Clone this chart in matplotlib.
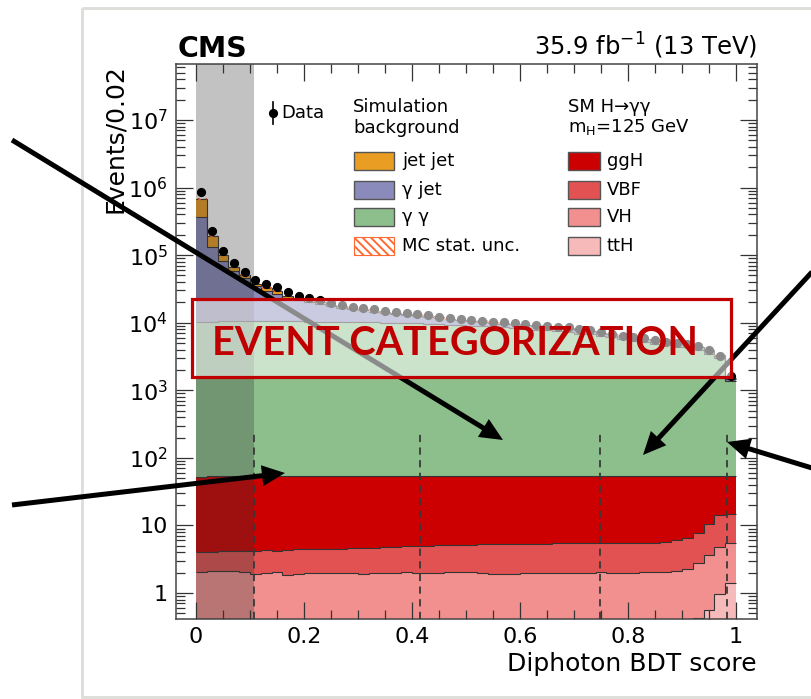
import numpy as np
import matplotlib
matplotlib.use("Agg")
import matplotlib.pyplot as plt
from matplotlib.patches import Rectangle, FancyArrow
from matplotlib.ticker import MultipleLocator, LogLocator, FuncFormatter, NullFormatter

plt.rcParams['font.family'] = ['DejaVu Sans']
plt.rcParams['hatch.linewidth'] = 1.4

# 50 bins of width 0.02 in diphoton BDT score
bin_edges = np.round(np.arange(0, 51) * 0.02, 2)

# ---- simulated background, events per bin ----
gamma_gamma = [10300, 10400, 10450, 10600, 10500, 10450, 10650, 10600, 10500, 10600,
               10400, 10300, 10300, 10200, 10200, 10200, 10100, 10000, 10000, 9900,
               9800, 9700, 9500, 9300, 9200, 9000, 8900, 8700, 8500, 8350,
               8050, 7900, 7700, 7450, 7300, 6900, 6700, 6300, 6050, 5650,
               5400, 5150, 4900, 4640, 4430, 4320, 3960, 3500, 2970, 1350]
gamma_jet = [353000, 122600, 72600, 48400, 35200, 24300, 18900, 16300, 12900, 10800,
             9600, 8600, 7400, 6400, 5700, 5050, 4500, 4150, 3600, 3200,
             2850, 2580, 2200, 1920, 1640, 1460, 1370, 1280, 1190, 1150,
             1060, 1020, 930, 890, 850, 810, 770, 730, 690, 650,
             605, 560, 515, 480, 445, 410, 375, 345, 285, 130]
jet_jet = [313000, 57000, 19000, 8600, 5600, 3300, 2900, 2600, 1700, 1500,
           1400, 1100, 900, 800, 700, 600, 500, 450, 400, 380,
           350, 320, 300, 280, 260, 240, 230, 220, 210, 200,
           190, 180, 170, 160, 150, 140, 130, 120, 110, 100,
           95, 90, 85, 80, 75, 70, 65, 55, 45, 20]

# ---- data ----
data = [860000, 224000, 115000, 77600, 56900, 42700, 37200, 33500, 28200, 25100,
        22900, 21400, 19500, 18200, 17200, 16400, 15800, 15100, 14300, 13800,
        13300, 12900, 12300, 11700, 11200, 11000, 10700, 10350, 10140, 9770,
        9460, 9250, 8910, 8710, 8510, 7940, 7760, 7240, 6920, 6460,
        6170, 5890, 5560, 5250, 5010, 4840, 4520, 3980, 3240, 1600]

# ---- SM H->gg signal (mH = 125 GeV), events per bin ----
tth = [0.05, 0.05, 0.05, 0.05, 0.05, 0.05, 0.05, 0.05, 0.05, 0.05,
       0.05, 0.05, 0.05, 0.05, 0.05, 0.05, 0.05, 0.05, 0.05, 0.05,
       0.05, 0.05, 0.05, 0.05, 0.05, 0.05, 0.05, 0.05, 0.05, 0.05,
       0.05, 0.05, 0.05, 0.05, 0.05, 0.05, 0.05, 0.05, 0.05, 0.05,
       0.05, 0.05, 0.05, 0.06, 0.06, 0.08, 0.42, 0.55, 0.95, 1.40]
vh = [2.02, 2.05, 2.09, 2.07, 2.00, 1.83, 1.92, 2.00, 1.81, 1.85,
      1.90, 1.92, 1.93, 1.91, 1.94, 1.88, 1.92, 1.95, 1.95, 1.97,
      1.95, 1.90, 1.95, 1.97, 1.98, 1.97, 1.95, 1.89, 1.87, 1.88,
      1.90, 1.92, 1.93, 1.92, 1.91, 1.92, 1.94, 1.97, 1.95, 1.93,
      1.95, 1.98, 1.97, 2.00, 2.06, 2.22, 2.32, 3.05, 3.85, 4.10]
vbf = [2.03, 2.00, 2.11, 2.08, 2.10, 2.32, 2.33, 2.20, 2.49, 2.50,
       2.50, 2.48, 2.52, 2.59, 2.61, 2.72, 2.73, 2.75, 2.80, 2.88,
       2.95, 3.05, 3.05, 3.08, 3.12, 3.18, 3.25, 3.36, 3.38, 3.37,
       3.30, 3.33, 3.37, 3.43, 3.44, 3.48, 3.46, 3.48, 3.50, 3.47,
       3.50, 3.37, 3.48, 3.64, 3.88, 4.30, 4.86, 6.80, 9.70, 9.50]
ggh = [48.4, 48.9, 49.2, 48.8, 48.9, 49.3, 48.7, 48.8, 49.2, 48.6,
       48.6, 48.6, 49.0, 48.5, 48.4, 48.4, 48.8, 48.3, 48.2, 48.1,
       48.1, 48.5, 48.0, 47.9, 47.9, 47.8, 47.8, 48.2, 47.7, 47.7,
       47.8, 47.7, 47.7, 47.6, 48.1, 47.6, 47.6, 47.5, 47.5, 47.6,
       48.0, 47.6, 47.5, 47.3, 47.0, 46.4, 45.4, 42.6, 38.5, 38.5]

# category boundaries on the BDT score and the low-score region removed
category_cuts = [0.107, 0.415, 0.748, 0.983]
excluded_region = (0.0, 0.107)

W, H = 812, 699
fig = plt.figure(figsize=(W / 100, H / 100), dpi=100)
fig.patch.set_facecolor('white')

ax_l, ax_r, ax_t, ax_b = 176, 757, 64, 619
ax = fig.add_axes([ax_l / W, 1 - ax_b / H, (ax_r - ax_l) / W, (ax_b - ax_t) / H])

floor = 1e-3
outline = dict(color='#333333', lw=0.8)

# background stack
base = np.full(len(data), floor)
for vals, col in [(gamma_gamma, '#8dbf8d'), (gamma_jet, '#8a8abb'), (jet_jet, '#e99d22')]:
    top = base + np.asarray(vals, float)
    ax.stairs(top, bin_edges, baseline=base, fill=True, color=col, zorder=1)
    ax.stairs(top, bin_edges, baseline=None, zorder=1.2, **outline)
    base = top
mc_total = base

# MC statistical uncertainty band
ax.stairs(mc_total * 1.03, bin_edges, baseline=mc_total * 0.97, fill=True,
          facecolor='none', edgecolor='#ff6a33', hatch='\\\\\\\\', lw=0, zorder=1.3)

# signal stack
base = np.full(len(data), floor)
for vals, col in [(tth, '#f7baba'), (vh, '#f29090'), (vbf, '#e35252'), (ggh, '#cc0000')]:
    top = base + np.asarray(vals, float)
    ax.stairs(top, bin_edges, baseline=base, fill=True, color=col, zorder=1.5)
    ax.stairs(top, bin_edges, baseline=None, zorder=1.6, **outline)
    base = top

ax.set_yscale('log')
ax.set_xlim(-0.037, 1.039)
ax.set_ylim(0.412, 6.75e7)

# category boundaries
ax.vlines(category_cuts, 0.412, 240, colors='#383838', linestyles=(0, (4, 3)), lw=1.3, zorder=2.6)

# excluded low-score region
ax.axvspan(*excluded_region, color='#363636', alpha=0.30, lw=0, zorder=3)

# data points
centers = 0.5 * (bin_edges[:-1] + bin_edges[1:])
ax.plot(centers, data, 'o', color='black', ms=5.6, zorder=4)

# axes styling
for s in ax.spines.values():
    s.set_color('#444444')
    s.set_linewidth(1.1)
ax.xaxis.set_major_locator(MultipleLocator(0.2))
ax.xaxis.set_minor_locator(MultipleLocator(0.05))
ax.xaxis.set_major_formatter(FuncFormatter(lambda v, p: '%g' % round(v, 2)))
ax.yaxis.set_major_locator(LogLocator(base=10, numticks=20))
ax.yaxis.set_minor_locator(LogLocator(base=10, subs=np.arange(2, 10), numticks=100))
ax.yaxis.set_minor_formatter(NullFormatter())


def ylab(v, p):
    e = int(round(np.log10(v)))
    if e == 0:
        return '1'
    if e == 1:
        return '10'
    return r'$10^{%d}$' % e


ax.yaxis.set_major_formatter(FuncFormatter(ylab))
ax.tick_params(which='both', direction='in', top=True, right=True, color='#333333', width=0.9)
ax.tick_params(which='major', length=12, labelsize=16, pad=6)
ax.tick_params(which='minor', length=6.5)

ax.set_xlabel('Diphoton BDT score', fontsize=18, loc='right')
ax.xaxis.set_label_coords(1.0, (ax_b - 652) / (ax_b - ax_t))
ax.xaxis.label.set_va('top')
ax.set_ylabel('Events/0.02', fontsize=18, loc='top')
ax.yaxis.set_label_coords((127 - ax_l) / (ax_r - ax_l), 1.0)

# ---- overlay in pixel coordinates ----
ov = fig.add_axes([0, 0, 1, 1], zorder=5)
ov.set_xlim(0, W)
ov.set_ylim(H, 0)
ov.set_xticks([])
ov.set_yticks([])
ov.axis('off')

ov.add_patch(Rectangle((82, 8), 800, 689, fill=False, edgecolor='#dcdcd8', lw=2, zorder=0))

ov.text(178, 57, 'CMS', fontsize=20.5, fontweight='bold', ha='left', va='baseline')
ov.text(757, 55, r'35.9 fb$^{\mathregular{-1}}$ (13 TeV)', fontsize=17.5, ha='right', va='baseline')

# legend
fs = 13
ov.plot([273, 273], [102, 124], color='black', lw=1.2)
ov.plot([273], [113], 'o', color='black', ms=5.6)
ov.text(281, 113, 'Data', fontsize=fs, va='center', ha='left')
ov.text(353, 107, 'Simulation', fontsize=fs, va='center', ha='left')
ov.text(353, 128, 'background', fontsize=fs, va='center', ha='left')
ov.text(568, 107, 'SM H\u2192\u03b3\u03b3', fontsize=fs, va='center', ha='left')
ov.text(568, 127, r'm$_{\mathregular{H}}$=125 GeV', fontsize=fs, va='center', ha='left')

row_y = [161, 190, 217, 246]
bkg_entries = [('jet jet', '#e99d22'), ('\u03b3 jet', '#8a8abb'), ('\u03b3 \u03b3', '#8dbf8d')]
for (lab, col), yc in zip(bkg_entries, row_y):
    ov.add_patch(Rectangle((354, yc - 9), 40, 18, facecolor=col, edgecolor='#555555', lw=1))
    ov.text(402, yc, lab, fontsize=fs, va='center', ha='left')
ov.add_patch(Rectangle((354, row_y[3] - 9), 40, 18, facecolor='white', edgecolor='#ff6a33',
                       hatch='\\\\\\\\', lw=0.8))
ov.text(402, row_y[3], 'MC stat. unc.', fontsize=fs, va='center', ha='left')

sig_entries = [('ggH', '#cc0000'), ('VBF', '#e35252'), ('VH', '#f29090'), ('ttH', '#f7baba')]
for (lab, col), yc in zip(sig_entries, row_y):
    ov.add_patch(Rectangle((568, yc - 9), 32, 18, facecolor=col, edgecolor='#555555', lw=1))
    ov.text(607, yc, lab, fontsize=fs, va='center', ha='left')

# annotation arrows
arrows = [((12, 140), (503, 440)), ((812, 272), (643, 455)),
          ((812, 468), (727, 442)), ((12, 505), (285, 473))]
for (x0, y0), (x1, y1) in arrows:
    ov.add_patch(FancyArrow(x0, y0, x1 - x0, y1 - y0, width=5, head_width=21, head_length=23,
                            length_includes_head=True, color='black', lw=0, zorder=1))

# title box
ov.add_patch(Rectangle((192, 299), 539, 78, facecolor='white', alpha=0.55, edgecolor='none', zorder=2))
ov.add_patch(Rectangle((192, 299), 539, 78, facecolor='none', edgecolor='#c00000', lw=2.3, zorder=3))
ov.text(455, 355, 'EVENT CATEGORIZATION', color='#c00000', fontsize=28.5, fontweight='bold',
        family=['Lato', 'DejaVu Sans'], ha='center', va='baseline', zorder=4)

fig.savefig('out.png', dpi=100)
